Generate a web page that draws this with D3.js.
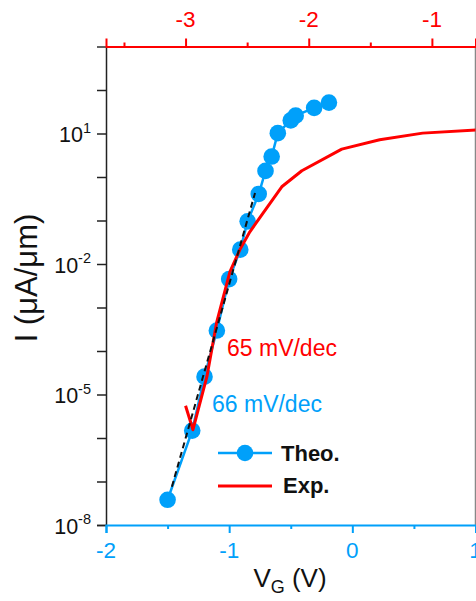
<!DOCTYPE html>
<html><head><meta charset="utf-8">
<script src="https://cdn.jsdelivr.net/npm/d3@7"></script>
<style>
html,body{margin:0;padding:0;background:#fff;}
svg{display:block;font-family:"Liberation Sans",Arial,sans-serif;}
</style></head>
<body>
<script>
// ---- data ----
const theoVG = [-1.5, -1.3, -1.2, -1.1, -1.0, -0.91, -0.85, -0.76, -0.705, -0.655, -0.605, -0.50, -0.46, -0.31, -0.19];
const theoI  = [3.8e-8, 1.48e-6, 2.57e-5, 2.95e-4, 4.5e-3, 0.0214, 0.0955, 0.407, 1.38, 2.95, 10.2, 20, 25.7, 38.9, 51.3];
const expVG  = [-3.0, -2.94, -2.827, -2.748, -2.64, -2.559, -2.478, -2.381, -2.219, -2.056, -1.732, -1.424, -1.075, -0.6];
const expI   = [5.5e-6, 1.55e-6, 2.57e-5, 4.47e-4, 6.6e-3, 0.0214, 0.055, 0.135, 0.596, 1.39, 4.38, 7.16, 10.2, 12.3];
const fitVG  = [-1.465, -0.79];
const fitI   = [7.6e-8, 0.43];
const bottomTicks = [-2, -1, 0, 1];
const bottomMinor = [-1.5, -0.5, 0.5];
const topTicks = [-3, -2, -1];
const topMinor = [-3.5, -2.5, -1.5];
const yTickExp = [-8, -7, -6, -5, -4, -3, -2, -1, 0, 1, 2, 3];
const yLabelExp = [-8, -5, -2, 1];
const labels = {x: "V", xSub: "G", xRest: " (V)", y: "I (μA/μm)", theo: "Theo.", exp: "Exp.", sTheo: "66 mV/dec", sExp: "65 mV/dec"};

// ---- layout ----
const W = 476, H = 601;
const L = 106, R = 475.5, T = 46.5, B = 525;
const BLUE = "#00a0fa", RED = "#ff0000";

const x = d3.scaleLinear().domain([-2, 1]).range([L, R]);
const xTop = d3.scaleLinear().domain([-3.646, -0.646]).range([L, R]);
const y = d3.scaleLog().domain([1e-8, 1e3]).range([B, T]);

const svg = d3.select("body").append("svg").attr("width", W).attr("height", H);

svg.append("defs").append("clipPath").attr("id", "clip")
  .append("rect").attr("x", L).attr("y", T).attr("width", R - L).attr("height", B - T);

// right spine
svg.append("line").attr("x1", R).attr("x2", R).attr("y1", T).attr("y2", B)
  .attr("stroke", "#888").attr("stroke-width", 1.5);

// left axis
const yAxis = d3.axisLeft(y).tickValues(yTickExp.map(e => Math.pow(10, e))).tickSize(9).tickFormat("");
const gy = svg.append("g").attr("transform", `translate(${L},0)`).call(yAxis);
gy.select(".domain").attr("stroke", "#222").attr("stroke-width", 1.5);
gy.selectAll(".tick line").attr("stroke", "#222").attr("stroke-width", 1.5);
gy.selectAll(".tick").filter(d => d >= 1e3).select("line").attr("stroke", "#666");

yLabelExp.forEach(e => {
  const t = svg.append("text").attr("x", 91).attr("y", y(Math.pow(10, e)) + 8.5)
    .attr("text-anchor", "end").attr("font-size", 21.5).attr("fill", "#111");
  t.append("tspan").text("10");
  t.append("tspan").text(String(e)).attr("font-size", 14.5).attr("dy", -9.5);
});

// bottom axis
const xAxis = d3.axisBottom(x).tickValues(bottomTicks).tickSize(8).tickFormat("");
const gx = svg.append("g").attr("transform", `translate(0,${B})`).call(xAxis);
gx.select(".domain").attr("stroke", BLUE).attr("stroke-width", 2);
gx.selectAll(".tick line").attr("stroke", BLUE).attr("stroke-width", 2);
const gxm = svg.append("g").attr("transform", `translate(0,${B})`)
  .call(d3.axisBottom(x).tickValues(bottomMinor).tickSize(4).tickFormat(""));
gxm.select(".domain").remove();
gxm.selectAll(".tick line").attr("stroke", BLUE).attr("stroke-width", 2);
bottomTicks.forEach(v => {
  svg.append("text").attr("x", x(v)).attr("y", 558).attr("text-anchor", "middle")
    .attr("font-size", 22.5).attr("fill", BLUE).text(v < 0 ? "-" + Math.abs(v) : String(v));
});

// top axis
const gt = svg.append("g").attr("transform", `translate(0,${T})`)
  .call(d3.axisTop(xTop).tickValues(topTicks).tickSize(8).tickFormat(""));
gt.select(".domain").attr("stroke", RED).attr("stroke-width", 2);
gt.selectAll(".tick line").attr("stroke", RED).attr("stroke-width", 2);
const gtm = svg.append("g").attr("transform", `translate(0,${T})`)
  .call(d3.axisTop(xTop).tickValues(topMinor).tickSize(4).tickFormat(""));
gtm.select(".domain").remove();
gtm.selectAll(".tick line").attr("stroke", RED).attr("stroke-width", 2);
topTicks.forEach(v => {
  svg.append("text").attr("x", xTop(v)).attr("y", 27).attr("text-anchor", "middle")
    .attr("font-size", 22.5).attr("fill", RED).text("-" + Math.abs(v));
});

// axis titles
const xt = svg.append("text").attr("x", 290).attr("y", 587).attr("text-anchor", "middle")
  .attr("font-size", 26).attr("fill", "#111");
xt.append("tspan").text(labels.x);
xt.append("tspan").text(labels.xSub).attr("font-size", 18).attr("dy", 6);
xt.append("tspan").text(labels.xRest).attr("dy", -6);

svg.append("text").attr("transform", "translate(37,278) rotate(-90)")
  .attr("text-anchor", "middle").attr("font-size", 31).attr("fill", "#111").text(labels.y);

// data
const plot = svg.append("g").attr("clip-path", "url(#clip)");
const theo = theoVG.map((v, i) => [v, theoI[i]]);
const exp = expVG.map((v, i) => [v, expI[i]]);
const fit = fitVG.map((v, i) => [v, fitI[i]]);

plot.append("path").datum(theo)
  .attr("d", d3.line().x(d => x(d[0])).y(d => y(d[1])))
  .attr("fill", "none").attr("stroke", BLUE).attr("stroke-width", 2.5);
plot.selectAll("circle.theo").data(theo).enter().append("circle")
  .attr("cx", d => x(d[0])).attr("cy", d => y(d[1])).attr("r", 8.3).attr("fill", BLUE);

plot.append("path").datum(exp)
  .attr("d", d3.line().x(d => xTop(d[0])).y(d => y(d[1])))
  .attr("fill", "none").attr("stroke", RED).attr("stroke-width", 3).attr("stroke-linejoin", "round");

plot.append("path").datum(fit)
  .attr("d", d3.line().x(d => x(d[0])).y(d => y(d[1])))
  .attr("fill", "none").attr("stroke", "#111").attr("stroke-width", 2).attr("stroke-dasharray", "6,4");

// annotations
svg.append("text").attr("x", 227).attr("y", 356).attr("font-size", 23).attr("fill", RED).text(labels.sExp);
svg.append("text").attr("x", 212).attr("y", 412).attr("font-size", 23).attr("fill", BLUE).text(labels.sTheo);

// legend
svg.append("line").attr("x1", 218).attr("x2", 272).attr("y1", 453).attr("y2", 453)
  .attr("stroke", BLUE).attr("stroke-width", 2.5);
svg.append("circle").attr("cx", 245).attr("cy", 453).attr("r", 8.3).attr("fill", BLUE);
svg.append("text").attr("x", 281).attr("y", 461).attr("font-size", 22).attr("font-weight", "bold")
  .attr("fill", "#111").text(labels.theo);
svg.append("line").attr("x1", 218).attr("x2", 272).attr("y1", 486).attr("y2", 486)
  .attr("stroke", RED).attr("stroke-width", 3);
svg.append("text").attr("x", 283).attr("y", 493).attr("font-size", 22).attr("font-weight", "bold")
  .attr("fill", "#111").text(labels.exp);
</script>
</body></html>
